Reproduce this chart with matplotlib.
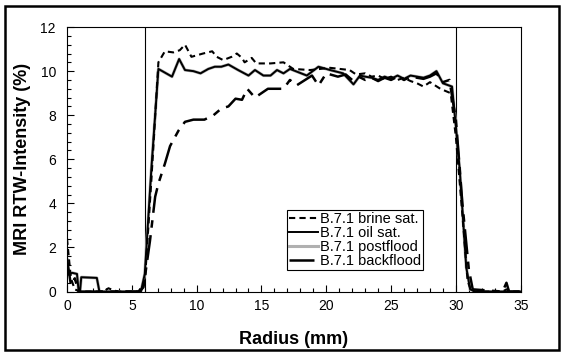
import matplotlib
matplotlib.use("Agg")
import matplotlib.pyplot as plt
from matplotlib.patches import Rectangle

plt.rcParams['font.family'] = ['Liberation Sans', 'DejaVu Sans']

# B.7.1 brine sat. (dashed)
brine_r = [0, 0.3, 0.6, 1.0, 2.8, 3.2, 3.6, 4.0, 5.5, 6.0, 6.5, 7.05, 7.55, 8.2, 8.7, 9.1, 9.6,
           10.5, 11.2, 11.55, 12.05, 12.7, 13.1, 13.5, 13.7, 14.25, 14.6, 15.7, 16.7, 17.45,
           18.75, 20.3, 21.8, 22.3, 23.0, 23.5, 24.0, 24.5, 25.0, 25.5, 26.0, 26.5, 27.0,
           27.5, 28.0, 28.8, 29.6, 30.0, 30.5, 30.9, 31.2, 33.6, 33.9, 34.2, 35]
brine_val = [2.4, 0.6, 0.1, 0.0, 0.0, 0.15, 0.05, 0.0, 0.0, 0.4, 5.0, 10.4, 10.9, 10.85, 10.95, 11.2, 10.65,
             10.8, 10.9, 10.65, 10.5, 10.65, 10.8, 10.6, 10.4, 10.6, 10.35, 10.35, 10.4, 10.1,
             10.05, 10.15, 10.05, 9.85, 9.9, 9.75, 9.8, 9.65, 9.75, 9.6, 9.7, 9.55, 9.45,
             9.3, 9.5, 9.2, 9.0, 7.0, 3.5, 0.5, 0.0, 0.0, 0.1, 0.0, 0.0]

# B.7.1 oil sat. (solid)
oil_r = [0, 0.4, 0.77, 0.9, 1.0, 1.1, 2.3, 2.5, 5.7, 6.0, 6.5, 7.05, 8.1, 8.65, 9.1, 9.75,
         10.3, 10.9, 11.4, 11.9, 12.45, 13.2, 14.0, 14.5, 15.15, 15.7, 16.2, 16.7, 17.2,
         18.5, 19.4, 20.3, 21.3, 22.1, 22.6, 23.0, 23.5, 24.0, 24.5, 25.0, 25.5, 26.0,
         26.5, 27.0, 27.5, 28.0, 28.5, 29.0, 29.7, 30.0, 30.3, 30.8, 31.1, 31.5, 35]
oil_val = [0.75, 0.85, 0.8, 0.0, 0.0, 0.65, 0.62, 0.0, 0.0, 0.8, 5.5, 10.1, 9.75, 10.55, 10.05, 10.0,
           9.9, 10.1, 10.2, 10.2, 10.3, 10.05, 9.8, 10.05, 9.8, 9.8, 10.05, 9.9, 10.1,
           9.8, 10.2, 10.05, 9.9, 9.4, 9.8, 9.75, 9.7, 9.6, 9.75, 9.65, 9.8, 9.65,
           9.8, 9.75, 9.7, 9.8, 10.0, 9.45, 9.3, 7.5, 5.5, 1.1, 0.1, 0.0, 0.0]

# B.7.1 postflood (grey, lies under the other curves)
post_r = oil_r
post_val = [0.75, 0.85, 0.8, 0.0, 0.0, 0.65, 0.62, 0.0, 0.0, 0.8, 5.5, 10.1, 9.75, 10.55, 10.05, 10.0,
            9.9, 10.1, 10.2, 10.2, 10.3, 10.05, 9.8, 10.05, 9.8, 9.8, 10.05, 9.9, 10.1,
            9.8, 10.2, 10.05, 9.9, 9.4, 9.8, 9.75, 9.7, 9.6, 9.75, 9.65, 9.8, 9.65,
            9.8, 9.75, 9.7, 9.8, 10.0, 9.45, 9.3, 7.5, 5.5, 1.1, 0.1, 0.0, 0.0]

# B.7.1 backflood (dash-dot)
back_r = [0, 0.3, 0.6, 0.9, 1.5, 5.6, 5.9, 6.4, 6.8, 7.05, 7.55, 7.95, 8.6, 9.1, 9.75, 10.6,
          11.3, 11.9, 12.45, 13.0, 13.5, 13.9, 14.5, 15.5, 16.7, 17.2, 17.7, 18.9, 19.4,
          20.0, 20.9, 21.5, 22.0, 22.5, 23.0, 23.5, 24.0, 24.5, 25.0, 25.5, 26.0, 26.5,
          27.0, 27.5, 28.0, 28.5, 29.0, 29.5, 30.0, 30.5, 31.0, 31.3, 33.6, 33.9, 34.1, 35]
back_val = [1.5, 0.3, 0.6, 0.0, 0.0, 0.0, 0.2, 2.3, 4.3, 4.9, 5.8, 6.6, 7.3, 7.7, 7.8, 7.8,
            8.0, 8.3, 8.4, 8.75, 8.7, 9.2, 8.8, 9.2, 9.2, 9.6, 9.35, 9.8, 9.35,
            9.9, 9.75, 9.85, 9.6, 9.75, 9.6, 9.7, 9.55, 9.7, 9.6, 9.75, 9.6, 9.75,
            9.7, 9.65, 9.75, 9.9, 9.5, 9.6, 7.8, 4.0, 1.0, 0.1, 0.0, 0.4, 0.0, 0.0]

core_edges = [6, 30]

fig = plt.figure(figsize=(5.65, 3.56), dpi=100)
ax = fig.add_axes([0.1186, 0.181, 0.803, 0.743])

ax.plot(post_r, post_val, color='#b0b0b0', lw=2.2, label='B.7.1 postflood', zorder=2)
ax.plot(brine_r, brine_val, color='black', lw=1.5, ls=(0, (3, 2)), label='B.7.1 brine sat.', zorder=3)
ax.plot(oil_r, oil_val, color='black', lw=1.4, label='B.7.1 oil sat.', zorder=4)
ax.plot(back_r, back_val, color='black', lw=1.8, ls=(0, (10, 3, 3, 3)), label='B.7.1 backflood', zorder=3)

for xe in core_edges:
    ax.axvline(xe, color='black', lw=0.8, zorder=1)

ax.set_xlim(0, 35)
ax.set_ylim(0, 12)
ax.set_xticks(range(0, 36, 5))
ax.set_yticks(range(0, 13, 2))
ax.set_xticks(range(0, 36), minor=True)
ax.set_yticks([i * 0.4 for i in range(31)], minor=True)
ax.tick_params(which='both', direction='in', labelsize=10, width=0.8)
ax.tick_params(which='major', length=5)
ax.tick_params(which='minor', length=3)
ax.tick_params(axis='y', pad=8)
ax.tick_params(axis='x', pad=5)
for s in ax.spines.values():
    s.set_linewidth(0.8)

ax.set_xlabel('Radius (mm)', fontsize=13, fontweight='bold', labelpad=13)
ax.set_ylabel('MRI RTW-Intensity (%)', fontsize=13, fontweight='bold', labelpad=7)

handles, labels = ax.get_legend_handles_labels()
order = [1, 2, 0, 3]
leg = ax.legend([handles[i] for i in order], [labels[i] for i in order],
                loc='center left', bbox_to_anchor=(0.485, 0.195), fontsize=10.5,
                frameon=True, fancybox=False, edgecolor='black', framealpha=1,
                handlelength=2.0, handletextpad=0.15, borderpad=0.12, labelspacing=0.0,
                borderaxespad=0)
leg.get_frame().set_linewidth(0.8)

fig.patches.append(Rectangle((5 / 565, 6 / 356), 554 / 565, 344 / 356, transform=fig.transFigure,
                             fill=False, edgecolor='black', lw=1.8))

fig.savefig('out.png', dpi=100)
